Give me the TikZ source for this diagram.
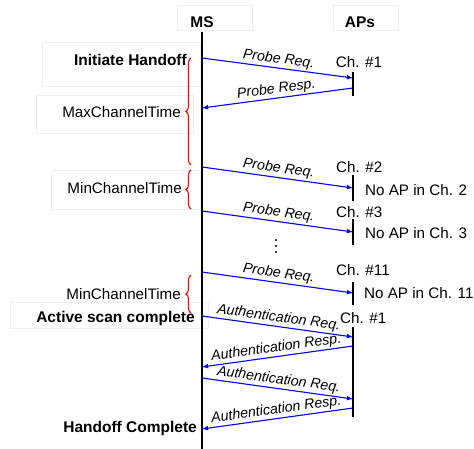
\documentclass[tikz,border=0pt]{standalone}
\usepackage{fontspec}
\setmainfont{Liberation Sans}
\usetikzlibrary{decorations.pathreplacing}

\tikzset{
  txt/.style={inner sep=0pt, font=\fontsize{15.2}{17}\selectfont},
  hdr/.style={txt, font=\fontsize{15.5}{17}\selectfont\bfseries},
  life/.style={line width=1.7pt},
  msg/.style={->, >=latex, draw=blue, line width=1.1pt},
  msglbl/.style={midway, above, sloped, inner sep=1.5pt, font=\fontsize{14.2}{16}\selectfont\itshape},
  timebrace/.style={draw=red, line width=1.1pt, decorate, decoration={brace, amplitude=5pt}},
  dot/.style={circle, fill, inner sep=0pt, minimum size=2.2pt},
  ghost/.style={draw=black!6, line width=0.5pt}
}

\begin{document}
\begin{tikzpicture}[x=1pt, y=-1pt]
                \useasboundingbox (0,0) rectangle (474,449);
                % faint text frames
                \draw[ghost] (177,5) rectangle (252,30);
                \draw[ghost] (333,5) rectangle (398,30);
                \draw[ghost] (42,42) rectangle (200,86);
                \draw[ghost] (36,95) rectangle (193,133);
                \draw[ghost] (51,170) rectangle (200,209);
                \draw[ghost] (10,302) rectangle (208,328);
                % lifelines
                \node[hdr](MS) at (202,22) {MS};
                \node[hdr](AP) at (360,22) {APs};
                \coordinate (MStop) at (202,32);
                \coordinate (MSbot) at (202,449);
                \draw[life] (MStop) -- (MSbot);
                \coordinate (T1a) at (353,72);  \coordinate (T1b) at (353,96);
                \coordinate (T2a) at (353,175); \coordinate (T2b) at (353,201);
                \coordinate (T3a) at (353,219); \coordinate (T3b) at (353,245);
                \coordinate (T4a) at (353,282); \coordinate (T4b) at (353,305);
                \coordinate (T5a) at (353,327); \coordinate (T5b) at (353,417);
                \foreach \t in {1,...,5} \draw[life] (T\t a) -- (T\t b);
                % message ends
                \coordinate (M1) at (202,58);  \coordinate (A1) at (353,78);
                \coordinate (A2) at (353,88);  \coordinate (M2) at (202,108);
                \coordinate (M3) at (202,167); \coordinate (A3) at (353,188);
                \coordinate (M4) at (202,211); \coordinate (A4) at (353,232);
                \coordinate (M5) at (202,272); \coordinate (A5) at (353,293);
                \coordinate (M6) at (202,316); \coordinate (A6) at (353,337);
                \coordinate (A7) at (353,346); \coordinate (M7) at (202,367);
                \coordinate (M8) at (202,378); \coordinate (A8) at (353,399);
                \coordinate (A9) at (353,408); \coordinate (M9) at (202,429);
                \draw[msg] (M1) -- (A1) node[msglbl]{Probe Req.};
                \draw[msg] (A2) -- (M2) node[msglbl]{Probe Resp.};
                \draw[msg] (M3) -- (A3) node[msglbl]{Probe Req.};
                \draw[msg] (M4) -- (A4) node[msglbl]{Probe Req.};
                \draw[msg] (M5) -- (A5) node[msglbl]{Probe Req.};
                \draw[msg] (M6) -- (A6) node[msglbl]{Authentication Req.};
                \draw[msg] (A7) -- (M7) node[msglbl]{Authentication Resp.};
                \draw[msg] (M8) -- (A8) node[msglbl]{Authentication Req.};
                \draw[msg] (A9) -- (M9) node[msglbl]{Authentication Resp.};
                % channels
                \node[txt](CH1) at (359,62) {Ch. \#1};
                \node[txt,anchor=west](CH2) at (336,167) {Ch. \#2};
                \node[txt,anchor=west](NO2) at (365,190) {No AP in Ch. 2};
                \node[txt,anchor=west](CH3) at (336,212) {Ch. \#3};
                \node[txt,anchor=west](NO3) at (365,233) {No AP in Ch. 3};
                \node[txt,anchor=west](CH11) at (336,270) {Ch. \#11};
                \node[txt,anchor=west](NO11) at (364,293) {No AP in Ch. 11};
                \node[txt,anchor=west](CHA) at (340,318) {Ch. \#1};
                \foreach \y [count=\i] in {240,246,252} \node[dot](D\i) at (276,\y) {};
                % events
                \node[hdr,anchor=east](INIT) at (187,60) {Initiate Handoff};
                \node[hdr,anchor=east](SCAN) at (195,318) {Active scan complete};
                \node[hdr,anchor=east](DONE) at (197,428) {Handoff Complete};
                % timers
                \coordinate (B1a) at (191,165); \coordinate (B1b) at (191,58);
                \coordinate (B2a) at (191,209); \coordinate (B2b) at (191,170);
                \coordinate (B3a) at (191,313); \coordinate (B3b) at (191,275);
                \draw[timebrace] (B1a) -- (B1b);
                \draw[timebrace] (B2a) -- (B2b);
                \draw[timebrace] (B3a) -- (B3b);
                \node[txt,anchor=east](MAXT) at (181,112) {MaxChannelTime};
                \node[txt,anchor=east](MINT1) at (182,188) {MinChannelTime};
                \node[txt,anchor=east](MINT2) at (181,294) {MinChannelTime};
\end{tikzpicture}
\end{document}
